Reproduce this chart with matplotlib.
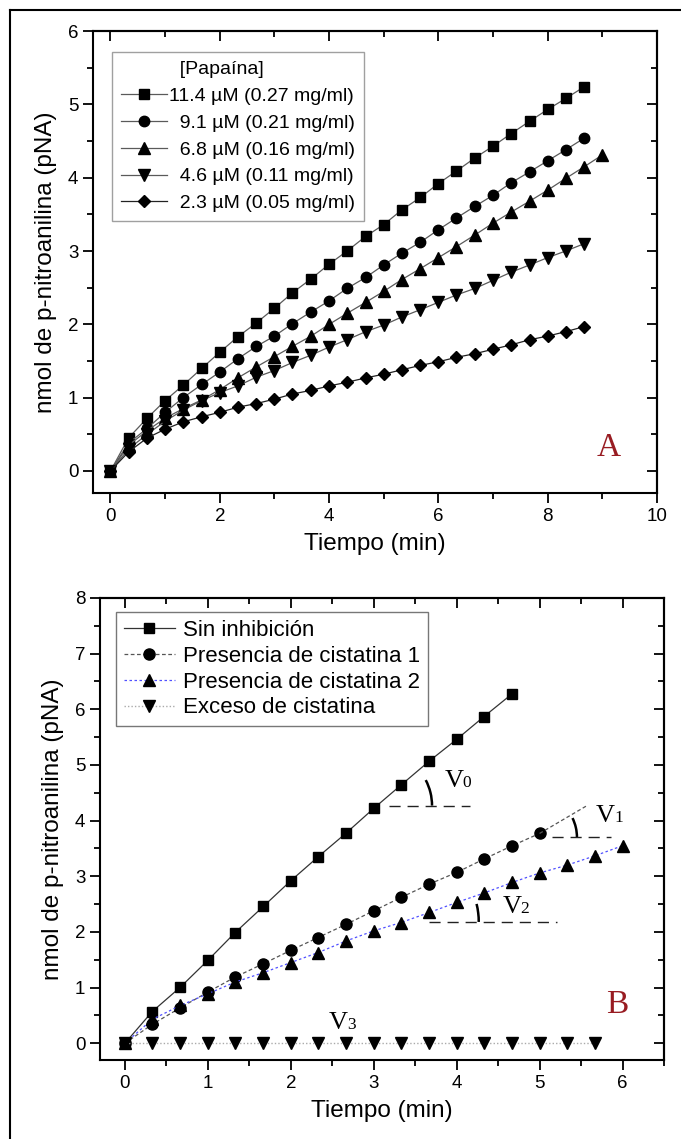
import matplotlib
matplotlib.use('Agg')
import matplotlib.pyplot as plt
from matplotlib.ticker import MultipleLocator, NullFormatter
from matplotlib.patches import Arc
from matplotlib.lines import Line2D
from matplotlib import transforms

plt.rcParams['font.family'] = ['Liberation Sans', 'DejaVu Sans']

# ---------------- Panel A data ----------------
time_a = [0, 0.33, 0.67, 1.0, 1.33, 1.67, 2.0, 2.33, 2.67, 3.0, 3.33, 3.67, 4.0, 4.33,
          4.67, 5.0, 5.33, 5.67, 6.0, 6.33, 6.67, 7.0, 7.33, 7.67, 8.0, 8.33, 8.67]
time_a_tri = [0, 0.33, 0.67, 1.0, 1.33, 1.67, 2.0, 2.33, 2.67, 3.0, 3.33, 3.67, 4.0, 4.33,
              4.67, 5.0, 5.33, 5.67, 6.0, 6.33, 6.67, 7.0, 7.33, 7.67, 8.0, 8.33, 8.67, 9.0]
pap_114 = [0, 0.45, 0.72, 0.96, 1.17, 1.40, 1.62, 1.83, 2.02, 2.22, 2.43, 2.62, 2.82, 3.00,
           3.20, 3.36, 3.56, 3.73, 3.92, 4.09, 4.27, 4.43, 4.60, 4.77, 4.93, 5.08, 5.24]
pap_91 = [0, 0.38, 0.58, 0.80, 1.00, 1.18, 1.35, 1.53, 1.70, 1.84, 2.01, 2.17, 2.32, 2.49,
          2.64, 2.81, 2.97, 3.12, 3.29, 3.45, 3.61, 3.76, 3.93, 4.08, 4.23, 4.38, 4.54]
pap_68 = [0, 0.35, 0.55, 0.72, 0.85, 0.97, 1.11, 1.27, 1.42, 1.56, 1.70, 1.84, 2.00, 2.15,
          2.30, 2.45, 2.61, 2.76, 2.91, 3.06, 3.22, 3.38, 3.53, 3.68, 3.83, 3.99, 4.15, 4.31]
pap_46 = [0, 0.30, 0.50, 0.68, 0.83, 0.96, 1.07, 1.16, 1.28, 1.37, 1.48, 1.58, 1.69, 1.79,
          1.90, 1.99, 2.10, 2.20, 2.30, 2.40, 2.49, 2.60, 2.71, 2.81, 2.91, 3.00, 3.10]
pap_23 = [0, 0.26, 0.45, 0.57, 0.67, 0.74, 0.80, 0.87, 0.92, 0.98, 1.05, 1.10, 1.16, 1.21,
          1.27, 1.32, 1.38, 1.44, 1.49, 1.55, 1.60, 1.66, 1.72, 1.79, 1.84, 1.90, 1.97]
labels_a = ["11.4 \u00b5M (0.27 mg/ml)", "  9.1 \u00b5M (0.21 mg/ml)", "  6.8 \u00b5M (0.16 mg/ml)",
            "  4.6 \u00b5M (0.11 mg/ml)", "  2.3 \u00b5M (0.05 mg/ml)"]
legend_title_a = "  [Papaína]"

# ---------------- Panel B data ----------------
time_b = [0, 0.33, 0.67, 1.0, 1.33, 1.67, 2.0, 2.33, 2.67, 3.0, 3.33, 3.67, 4.0, 4.33,
          4.67, 5.0, 5.33, 5.67, 6.0]
sin_inhib = [0, 0.57, 1.01, 1.49, 1.99, 2.46, 2.92, 3.35, 3.78, 4.22, 4.64, 5.07, 5.46, 5.87, 6.28]
cist_1 = [0, 0.34, 0.64, 0.92, 1.19, 1.43, 1.67, 1.90, 2.14, 2.38, 2.62, 2.86, 3.07, 3.31, 3.55, 3.77]
cist_2 = [0, 0.43, 0.68, 0.89, 1.10, 1.27, 1.45, 1.63, 1.84, 2.02, 2.17, 2.35, 2.53, 2.70, 2.89,
          3.06, 3.20, 3.37, 3.55]
exceso = [0, 0, 0, 0, 0, 0, 0, 0, 0, 0, 0, 0, 0, 0, 0, 0, 0, 0]
labels_b = ["Sin inhibición", "Presencia de cistatina 1", "Presencia de cistatina 2", "Exceso de cistatina"]

# annotations of panel B
v_subs = ["0", "1", "2", "3"]
v_pos = [(3.85, 4.60), (5.68, 3.97), (4.55, 2.34), (2.46, 0.26)]
dash_x0 = [3.18, 5.15, 3.67]
dash_x1 = [4.16, 5.86, 5.21]
dash_y = [4.27, 3.70, 2.18]
arc_cx = [3.04, 4.92, 3.35]
arc_cy = [4.27, 3.70, 2.18]
arc_r_px = [55, 44, 76]
arc_deg = [38, 36, 20]
ext_x = [5.0, 5.56]
ext_y = [3.77, 4.26]

W, H = 681, 1139
fig = plt.figure(figsize=(W / 100, H / 100), dpi=100)

TICK_FS = 13.5
LABEL_FS = 17.5
RED = '#981c22'


def style_axes(ax, xmaj, xmin, ymaj, ymin):
    ax.xaxis.set_major_locator(MultipleLocator(xmaj))
    ax.xaxis.set_minor_locator(MultipleLocator(xmin))
    ax.yaxis.set_major_locator(MultipleLocator(ymaj))
    ax.yaxis.set_minor_locator(MultipleLocator(ymin))
    ax.tick_params(which='both', direction='out', width=1.3, labelsize=TICK_FS, top=False, right=False)
    ax.tick_params(which='major', length=7)
    ax.tick_params(which='minor', length=4)
    for s in ax.spines.values():
        s.set_linewidth(1.5)
    top = ax.secondary_xaxis('top')
    top.xaxis.set_major_locator(MultipleLocator(xmaj))
    top.xaxis.set_minor_locator(MultipleLocator(xmin))
    top.xaxis.set_major_formatter(NullFormatter())
    top.tick_params(which='both', direction='in', width=1.3)
    top.tick_params(which='major', length=7)
    top.tick_params(which='minor', length=4)
    top.spines['top'].set_linewidth(1.5)
    right = ax.secondary_yaxis('right')
    right.yaxis.set_major_locator(MultipleLocator(ymaj))
    right.yaxis.set_minor_locator(MultipleLocator(ymin))
    right.yaxis.set_major_formatter(NullFormatter())
    right.tick_params(which='both', direction='in', width=1.3)
    right.tick_params(which='major', length=7)
    right.tick_params(which='minor', length=4)
    right.spines['right'].set_linewidth(1.5)


# ================= Panel A =================
axA = fig.add_axes([93 / W, 1 - 493 / H, (657 - 93) / W, (493 - 31) / H])
axA.set_xlim(-0.32, 10)
axA.set_ylim(-0.3, 6)
style_axes(axA, 2, 1, 1, 0.5)

gray = '#5a5a5a'
la = []
la.append(axA.plot(time_a, pap_114, color=gray, lw=0.9, marker='s', ms=7, mfc='black', mec='black')[0])
la.append(axA.plot(time_a, pap_91, color=gray, lw=0.9, marker='o', ms=7.5, mfc='black', mec='black')[0])
la.append(axA.plot(time_a_tri, pap_68, color=gray, lw=0.9, marker='^', ms=8, mfc='black', mec='black')[0])
la.append(axA.plot(time_a, pap_46, color=gray, lw=0.9, marker='v', ms=8, mfc='black', mec='black')[0])
la.append(axA.plot(time_a, pap_23, color='#222222', lw=0.9, marker='D', ms=6, mfc='black', mec='black')[0])

axA.set_xlabel("Tiempo (min)", fontsize=LABEL_FS, labelpad=6)
axA.set_ylabel("nmol de p-nitroanilina (pNA)", fontsize=LABEL_FS, labelpad=8)
axA.text(8.9, 0.2, "A", fontsize=24, color=RED, family=['Liberation Serif', 'DejaVu Serif'])

blank = Line2D([], [], linestyle='none', marker=None)
legA = axA.legend([blank] + la, [legend_title_a] + labels_a, loc='upper left',
                  bbox_to_anchor=(112 / W, 1 - 52 / H), bbox_transform=fig.transFigure,
                  fontsize=14, frameon=True, fancybox=False, edgecolor='#888888',
                  handlelength=2.4, handletextpad=0.1, labelspacing=0.47, borderpad=0.45,
                  borderaxespad=0, numpoints=1)
legA.get_frame().set_linewidth(1.0)

# ================= Panel B =================
axB = fig.add_axes([100 / W, 1 - 1060 / H, (664 - 100) / W, (1060 - 598) / H])
axB.set_xlim(-0.3, 6.5)
axB.set_ylim(-0.3, 8)
style_axes(axB, 1, 0.5, 1, 0.5)

lb = []
lb.append(axB.plot(time_b[:len(sin_inhib)], sin_inhib, color='#333333', lw=0.9, ls='-',
                   marker='s', ms=7.5, mfc='black', mec='black')[0])
lb.append(axB.plot(time_b[:len(cist_1)], cist_1, color='#555555', lw=0.9, ls=(0, (3, 2)),
                   marker='o', ms=8, mfc='black', mec='black')[0])
lb.append(axB.plot(time_b[:len(cist_2)], cist_2, color='#5050ff', lw=0.9, ls=(0, (2, 2)),
                   marker='^', ms=8.5, mfc='black', mec='black')[0])
lb.append(axB.plot(time_b[:len(exceso)], exceso, color='#aaaaaa', lw=1.0, ls=(0, (1, 1.5)),
                   marker='v', ms=8.5, mfc='black', mec='black')[0])

axB.set_xlabel("Tiempo (min)", fontsize=LABEL_FS, labelpad=6)
axB.set_ylabel("nmol de p-nitroanilina (pNA)", fontsize=LABEL_FS, labelpad=8)
axB.text(5.8, 0.54, "B", fontsize=24, color=RED, family=['Liberation Serif', 'DejaVu Serif'])

legB = axB.legend(lb, labels_b, loc='upper left',
                  bbox_to_anchor=(116 / W, 1 - 612 / H), bbox_transform=fig.transFigure,
                  fontsize=16, frameon=True, fancybox=False, edgecolor='#555555',
                  handlelength=2.3, handletextpad=0.35, labelspacing=0.22, borderpad=0.35,
                  borderaxespad=0, numpoints=1)
legB.get_frame().set_linewidth(1.0)

# annotations
serif = ['Liberation Serif', 'DejaVu Serif']
for sub, (vx, vy) in zip(v_subs, v_pos):
    axB.text(vx, vy, "V", fontsize=19, family=serif, color='black')
    tr = transforms.offset_copy(axB.transData, fig=fig, x=13.2, y=0, units='points')
    axB.text(vx, vy, sub, fontsize=12.5, family=serif, color='black', transform=tr)

for x0, x1, y in zip(dash_x0, dash_x1, dash_y):
    axB.plot([x0, x1], [y, y], color='#222222', lw=1.0, ls=(0, (8, 5)))

axB.plot(ext_x, ext_y, color='#555555', lw=0.9, ls=(0, (3, 2)))

px_x = axB.transData.transform((1, 0))[0] - axB.transData.transform((0, 0))[0]
px_y = axB.transData.transform((0, 1))[1] - axB.transData.transform((0, 0))[1]
for cx, cy, r, deg in zip(arc_cx, arc_cy, arc_r_px, arc_deg):
    axB.add_patch(Arc((cx, cy), 2 * r / px_x, 2 * r / px_y, theta1=0, theta2=deg,
                      color='black', lw=1.8))

# outer frame (left and top edges)
fig.add_artist(Line2D([10 / W, 10 / W], [0, 1 - 10 / H], transform=fig.transFigure, color='black', lw=1.5))
fig.add_artist(Line2D([10 / W, 1], [1 - 10 / H, 1 - 10 / H], transform=fig.transFigure, color='black', lw=1.5))

fig.savefig('out.png', dpi=100)
